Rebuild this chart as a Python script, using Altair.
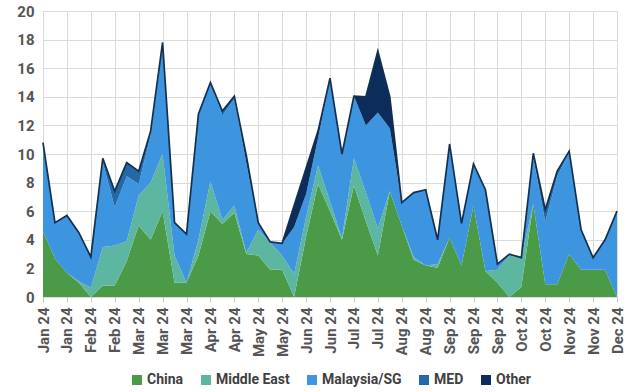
import altair as alt
import pandas as pd

# Weekly volumes by destination, 49 weeks of 2024 (ticks every second week)
tick_labels = ["Jan 24", "Jan 24", "Feb 24", "Feb 24", "Mar 24", "Mar 24", "Mar 24",
               "Apr 24", "Apr 24", "May 24", "May 24", "Jun 24", "Jun 24", "Jul 24",
               "Jul 24", "Aug 24", "Aug 24", "Sep 24", "Sep 24", "Sep 24", "Oct 24",
               "Oct 24", "Nov 24", "Nov 24", "Dec 24"]

china = [4.6, 2.7, 1.7, 1.0, 0.0, 0.8, 0.8, 2.5, 5.0, 4.0, 6.0, 1.0, 1.0, 2.9, 6.0,
         5.1, 5.9, 3.0, 2.9, 1.9, 1.9, 0.0, 4.2, 7.9, 6.0, 4.0, 7.8, 5.3, 2.9, 7.4,
         5.0, 2.6, 2.2, 2.05, 4.15, 2.2, 6.4, 1.8, 1.0, 0.0, 0.7, 6.5, 0.9, 0.9, 3.0,
         1.9, 1.9, 1.9, 0.0]
middle_east = [0.0, 0.0, 0.0, 0.1, 0.65, 2.7, 2.8, 1.4, 2.1, 4.0, 4.0, 1.9, 0.0, 1.1,
               2.1, 0.3, 0.5, 0.1, 1.8, 1.9, 1.0, 1.6, 1.4, 1.3, 0.7, 0.1, 1.9, 2.0,
               1.9, 0.0, 0.0, 0.2, 0.0, 0.25, 0.0, 0.0, 0.0, 0.0, 0.9, 2.9, 2.05, 0.0,
               0.0, 0.0, 0.0, 0.0, 0.0, 0.0, 0.0]
malaysia_sg = [6.2, 2.5, 4.0, 3.4, 2.15, 5.9, 2.7, 4.55, 0.8, 3.3, 7.6, 2.3, 3.4, 8.8,
               6.9, 7.3, 7.45, 6.3, 0.5, 0.05, 0.85, 3.3, 1.6, 1.9, 8.6, 5.9, 4.35,
               4.7, 8.1, 4.4, 1.6, 4.5, 5.3, 1.7, 6.55, 2.95, 2.9, 5.7, 0.4, 0.1, 0.0,
               3.25, 4.35, 7.55, 7.1, 2.8, 0.85, 2.1, 6.0]
med = [0.0, 0.0, 0.0, 0.0, 0.0, 0.3, 1.1, 0.95, 0.9, 0.3, 0.2, 0.0, 0.0, 0.0, 0.0,
       0.3, 0.2, 0.0, 0.0, 0.0, 0.0, 0.0, 0.0, 0.0, 0.0, 0.0, 0.0, 0.0, 0.0, 0.0,
       0.0, 0.0, 0.0, 0.0, 0.0, 0.0, 0.0, 0.0, 0.0, 0.0, 0.0, 0.3, 0.85, 0.35, 0.1,
       0.0, 0.0, 0.0, 0.0]
other = [0.0, 0.0, 0.0, 0.0, 0.0, 0.0, 0.0, 0.0, 0.0, 0.0, 0.0, 0.0, 0.0, 0.0, 0.0,
         0.0, 0.0, 0.5, 0.0, 0.0, 0.0, 1.5, 1.8, 0.5, 0.0, 0.0, 0.0, 2.0, 4.3, 2.2,
         0.0, 0.0, 0.0, 0.0, 0.0, 0.0, 0.0, 0.0, 0.0, 0.0, 0.0, 0.0, 0.0, 0.0, 0.0,
         0.0, 0.0, 0.0, 0.0]

series_names = ["China", "Middle East", "Malaysia/SG", "MED", "Other"]
series_values = [china, middle_east, malaysia_sg, med, other]
series_colors = ["#4b9a48", "#5db7a0", "#3d94df", "#2468a6", "#0c2d5b"]

rows = []
for rank, (name, vals) in enumerate(zip(series_names, series_values)):
    for week, v in enumerate(vals):
        rows.append({"week": week, "series": name, "rank": rank, "value": v})
df = pd.DataFrame(rows)

n_weeks = len(china)
label_array = "[" + ",".join("'%s'" % t for t in tick_labels) + "]"

font = "Roboto"
text_color = "#555555"

x_scale = alt.Scale(domain=[0, n_weeks - 1], nice=False, zero=False)
y_scale = alt.Scale(domain=[0, 20], nice=False)

x_axis = alt.Axis(
    values=list(range(0, n_weeks, 2)),
    labelExpr=label_array + "[round(datum.value / 2)]",
    labelAngle=-90,
    labelOverlap=False,
    labelFlush=False,
    title=None,
    grid=True,
    gridColor="#dadada",
    domain=False,
    ticks=True,
    tickSize=5,
    tickColor="#c8c8c8",
    labelPadding=5,
    labelFont=font,
    labelFontSize=15,
    labelFontWeight="bold",
    labelColor=text_color,
)

y_axis = alt.Axis(
    values=list(range(0, 21, 2)),
    labelOverlap=False,
    labelFlush=False,
    title=None,
    grid=True,
    gridColor="#dadada",
    domain=False,
    ticks=False,
    labelPadding=9,
    labelFont=font,
    labelFontSize=15,
    labelFontWeight="bold",
    labelColor=text_color,
)

base = alt.Chart(df)

areas = base.mark_area(opacity=1, interpolate="linear").encode(
    x=alt.X("week:Q", scale=x_scale, axis=x_axis),
    y=alt.Y("value:Q", stack="zero", scale=y_scale, axis=y_axis),
    color=alt.Color(
        "series:N",
        scale=alt.Scale(domain=series_names, range=series_colors),
        legend=alt.Legend(
            title=None,
            orient="none",
            direction="horizontal",
            legendX=87,
            legendY=362,
            symbolType="square",
            symbolSize=100,
            symbolStrokeWidth=0,
            labelFont=font,
            labelFontSize=14,
            labelFontWeight="bold",
            labelColor="#404040",
            labelOffset=3,
            columnPadding=15,
        ),
    ),
    order=alt.Order("rank:Q", sort="ascending"),
)

# dark outline along the top of the stack
outline = base.transform_aggregate(
    total="sum(value)", groupby=["week"]
).mark_line(color="#13304f", strokeWidth=1.7).encode(
    x=alt.X("week:Q", scale=x_scale, axis=x_axis),
    y=alt.Y("total:Q", scale=y_scale, axis=y_axis),
)

chart = alt.layer(areas, outline).properties(
    width=574,
    height=286,
    autosize=alt.AutoSizeParams(type="none"),
    padding={"left": 43, "top": 11, "right": 17, "bottom": 95},
).configure_view(stroke=None).configure(background="white")

chart.save("out.html", embed_options={"renderer": "svg", "actions": False})
